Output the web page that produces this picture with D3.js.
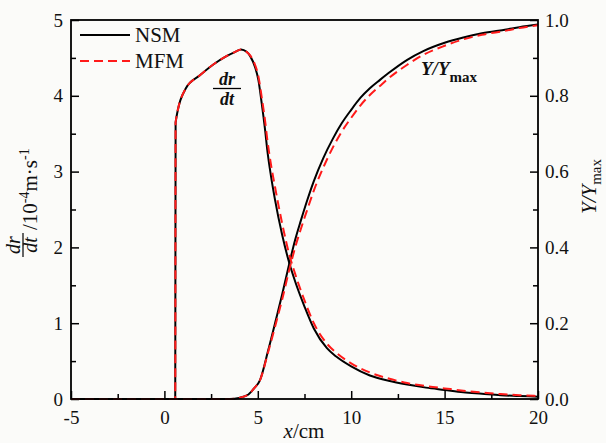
<!DOCTYPE html>
<html>
<head>
<meta charset="utf-8">
<script src="https://cdn.jsdelivr.net/npm/d3@7"></script>
<style>
  html, body { margin: 0; padding: 0; background: #fbfbf9; }
  svg { display: block; }
  text { font-family: "Liberation Serif", "Times New Roman", serif; fill: #111; }
</style>
</head>
<body>
<svg id="chart" width="606" height="443"></svg>
<script>
// Growth rate dr/dt (10^-4 m/s) along x (cm)
const xRate = [-5, 0.58, 0.6, 1.15, 1.9, 2.6, 3.3, 3.8, 4.1, 4.4, 4.6, 4.85, 5.03, 5.21, 5.39, 5.51, 5.7, 5.92, 6.3, 6.69, 7.0, 7.5, 8.0, 8.7, 9.2, 10, 11, 12, 13, 14, 15, 16, 17, 18, 19, 20];
const nsmRate = [0, 0, 3.65, 4.1, 4.27, 4.41, 4.52, 4.58, 4.61, 4.58, 4.52, 4.38, 4.21, 3.9, 3.55, 3.28, 2.95, 2.63, 2.17, 1.79, 1.55, 1.22, 0.93, 0.67, 0.56, 0.43, 0.31, 0.24, 0.19, 0.15, 0.12, 0.09, 0.07, 0.05, 0.04, 0.03];
const mfmRate = [0, 0, 3.65, 4.1, 4.27, 4.41, 4.52, 4.58, 4.61, 4.58, 4.53, 4.41, 4.26, 3.98, 3.67, 3.42, 3.1, 2.8, 2.32, 1.9, 1.65, 1.3, 1.0, 0.73, 0.61, 0.47, 0.35, 0.27, 0.21, 0.17, 0.14, 0.11, 0.085, 0.065, 0.05, 0.04];

// Normalised yield Y/Ymax along x (cm)
const xYield = [-5, 3.5, 4.0, 4.5, 4.8, 5.12, 5.56, 6.0, 6.3, 6.69, 7.0, 7.3, 7.65, 8.0, 8.5, 9.0, 9.5, 10, 10.5, 11, 11.54, 12, 13, 13.86, 15, 16, 17, 18.3, 19, 20];
const nsmYield = [0, 0, 0.003, 0.012, 0.028, 0.05, 0.129, 0.215, 0.275, 0.358, 0.42, 0.47, 0.525, 0.575, 0.635, 0.685, 0.728, 0.763, 0.795, 0.82, 0.842, 0.86, 0.895, 0.918, 0.94, 0.954, 0.965, 0.975, 0.981, 0.988];
const mfmYield = [0, 0, 0.003, 0.012, 0.028, 0.05, 0.125, 0.205, 0.262, 0.342, 0.4, 0.448, 0.5, 0.55, 0.61, 0.662, 0.706, 0.742, 0.775, 0.802, 0.826, 0.846, 0.882, 0.908, 0.932, 0.949, 0.961, 0.972, 0.979, 0.986];

// Axis ticks
const xTicks = [-5, 0, 5, 10, 15, 20];
const xMinor = [-2.5, 2.5, 7.5, 12.5, 17.5];
const yLeftTicks = [0, 1, 2, 3, 4, 5];
const yLeftMinor = [0.5, 1.5, 2.5, 3.5, 4.5];
const yRightTicks = [0, 0.2, 0.4, 0.6, 0.8, 1.0];
const yRightMinor = [0.1, 0.3, 0.5, 0.7, 0.9];

const seriesNames = ["NSM", "MFM"];
const seriesColors = ["#000000", "#ff1a1a"];

const svg = d3.select("#chart");
const L = 71, R = 538, T = 20, B = 399;

const x = d3.scaleLinear().domain([-5, 20]).range([L, R]);
const yL = d3.scaleLinear().domain([0, 5]).range([B, T]);
const yR = d3.scaleLinear().domain([0, 1]).range([B, T]);

// Axes
function styleAxis(g) {
  g.select(".domain").remove();
  g.selectAll(".tick line").attr("stroke", "#000").attr("stroke-width", 1.5);
  g.selectAll(".tick text").style("font-size", "19px").attr("fill", "#111");
}

svg.append("g").attr("transform", `translate(0,${B})`)
  .call(d3.axisBottom(x).tickValues(xTicks).tickSize(-8).tickPadding(12).tickFormat(d => String(d)))
  .call(styleAxis);
svg.append("g").attr("transform", `translate(0,${B})`)
  .call(d3.axisBottom(x).tickValues(xMinor).tickSize(-5).tickFormat(""))
  .call(styleAxis);

svg.append("g").attr("transform", `translate(${L},0)`)
  .call(d3.axisLeft(yL).tickValues(yLeftTicks).tickSize(-8).tickPadding(8).tickFormat(d => String(d)))
  .call(styleAxis);
svg.append("g").attr("transform", `translate(${L},0)`)
  .call(d3.axisLeft(yL).tickValues(yLeftMinor).tickSize(-5).tickFormat(""))
  .call(styleAxis);

svg.append("g").attr("transform", `translate(${R},0)`)
  .call(d3.axisRight(yR).tickValues(yRightTicks).tickSize(-8).tickPadding(7).tickFormat(d3.format(".1f")))
  .call(styleAxis);
svg.append("g").attr("transform", `translate(${R},0)`)
  .call(d3.axisRight(yR).tickValues(yRightMinor).tickSize(-5).tickFormat(""))
  .call(styleAxis);

// Curves
const rateLine = vals => d3.line().x((d, i) => x(xRate[i])).y(d => yL(d)).curve(d3.curveMonotoneX)(vals);
const yieldLine = vals => d3.line().x((d, i) => x(xYield[i])).y(d => yR(d)).curve(d3.curveMonotoneX)(vals);

const plot = svg.append("g");
plot.append("path").attr("d", rateLine(nsmRate)).attr("fill", "none").attr("stroke", seriesColors[0]).attr("stroke-width", 2);
plot.append("path").attr("d", yieldLine(nsmYield)).attr("fill", "none").attr("stroke", seriesColors[0]).attr("stroke-width", 2);
plot.append("path").attr("d", rateLine(mfmRate)).attr("fill", "none").attr("stroke", seriesColors[1]).attr("stroke-width", 2).attr("stroke-dasharray", "9,5");
plot.append("path").attr("d", yieldLine(mfmYield)).attr("fill", "none").attr("stroke", seriesColors[1]).attr("stroke-width", 2).attr("stroke-dasharray", "9,5");

// Frame
svg.append("rect").attr("x", L).attr("y", T).attr("width", R - L).attr("height", B - T)
  .attr("fill", "none").attr("stroke", "#000").attr("stroke-width", 1.8);

// Legend
const legend = svg.append("g");
seriesNames.forEach((name, i) => {
  const ly = 35 + i * 26;
  legend.append("line").attr("x1", 80).attr("x2", 130).attr("y1", ly).attr("y2", ly)
    .attr("stroke", seriesColors[i]).attr("stroke-width", 2)
    .attr("stroke-dasharray", i === 1 ? "9,5" : null);
  legend.append("text").attr("x", 135).attr("y", ly + 7).style("font-size", "21px").text(name);
});

// Curve annotations
const ann = svg.append("g").style("font-weight", "bold").style("font-style", "italic");
ann.append("text").attr("x", 227).attr("y", 85).attr("text-anchor", "middle").style("font-size", "18px").text("dr");
ann.append("line").attr("x1", 213).attr("x2", 241).attr("y1", 88.5).attr("y2", 88.5).attr("stroke", "#000").attr("stroke-width", 1.3);
ann.append("text").attr("x", 227).attr("y", 105).attr("text-anchor", "middle").style("font-size", "18px").text("dt");

const yy = ann.append("text").attr("x", 421).attr("y", 75).style("font-size", "19px");
yy.append("tspan").text("Y/Y");
yy.append("tspan").attr("dy", 7).style("font-style", "normal").style("font-size", "15px").text("max");

// x-axis title
const xt = svg.append("text").attr("x", 304).attr("y", 438).attr("text-anchor", "middle").style("font-size", "21px");
xt.append("tspan").style("font-style", "italic").text("x");
xt.append("tspan").text("/cm");

// Left axis title: dr/dt /10^-4 m·s^-1
const lt = svg.append("g").attr("transform", "rotate(-90)");
lt.append("text").attr("x", -245).attr("y", 20).attr("text-anchor", "middle").style("font-size", "20px").style("font-style", "italic").text("dr");
lt.append("line").attr("x1", -257).attr("x2", -233).attr("y1", 23).attr("y2", 23).attr("stroke", "#000").attr("stroke-width", 1.2);
lt.append("text").attr("x", -245).attr("y", 37).attr("text-anchor", "middle").style("font-size", "20px").style("font-style", "italic").text("dt");
const lm = lt.append("text").attr("x", -230).attr("y", 37).style("font-size", "21px");
lm.append("tspan").text("/10");
lm.append("tspan").attr("dy", -8).style("font-size", "14px").text("-4");
lm.append("tspan").attr("dy", 8).text("m·s");
lm.append("tspan").attr("dy", -8).style("font-size", "14px").text("-1");

// Right axis title: Y/Ymax
const rt = svg.append("text").attr("transform", "rotate(-90)").attr("x", -214).attr("y", 596).style("font-size", "21px");
rt.append("tspan").style("font-style", "italic").text("Y/Y");
rt.append("tspan").attr("dy", 5).style("font-size", "15px").text("max");
</script>
</body>
</html>
